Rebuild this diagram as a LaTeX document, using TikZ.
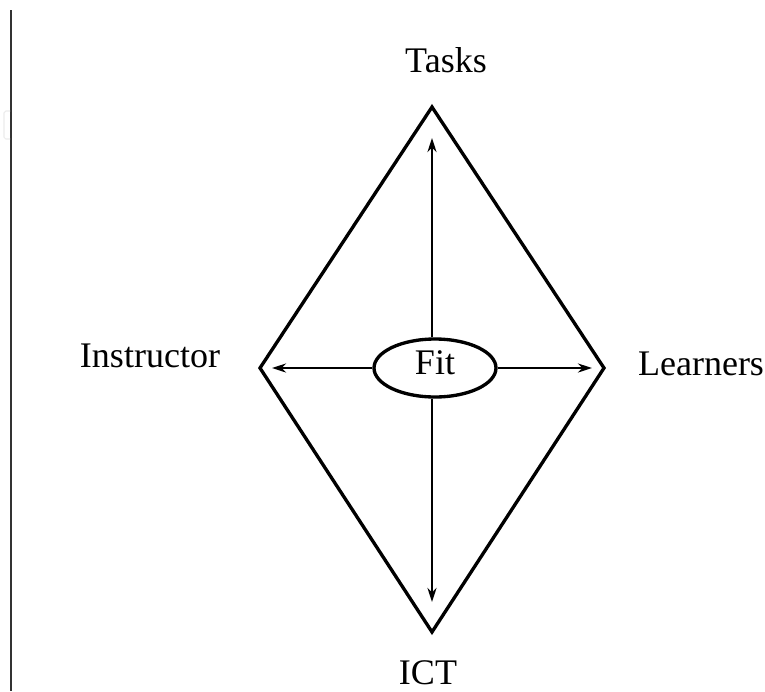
\documentclass[tikz,border=0pt]{standalone}
\usepackage{fontspec}
\setmainfont{Liberation Serif}
\usetikzlibrary{arrows.meta,shapes.geometric}
\begin{document}
\begin{tikzpicture}[x=0.02cm,y=-0.02cm,
  edge/.style={line width=1.9pt,line join=miter},
  link/.style={line width=1.5pt,-{Stealth[length=0.28cm,width=0.18cm]}},
  lbl/.style={font=\fontsize{20.5}{24}\selectfont,inner sep=0pt}]
\useasboundingbox (0,0) rectangle (765,691);
% page rule on the left
\draw[line width=1.3pt,black!80] (11,10) -- (11,691);
\draw[black!8,line width=0.6pt,rounded corners=1pt] (10,111) -- (4,111) -- (4,139) -- (10,139);
% diamond corners
\coordinate (top) at (432,107);
\coordinate (left) at (260,368);
\coordinate (right) at (604,368);
\coordinate (bottom) at (432,632);
\coordinate (tTop) at (432,138);
\coordinate (tLeft) at (272,368);
\coordinate (tRight) at (592,368);
\coordinate (tBottom) at (432,602);
\draw[edge] (top) -- (right) -- (bottom) -- (left) -- cycle;
% central fit ellipse
\node[draw,ellipse,line width=1.9pt,minimum width=2.44cm,minimum height=1.16cm,inner sep=0pt] (fit) at (435,368) {};
\node[lbl] (fitlbl) at (435,363) {Fit};
\draw[link] (fit.north -| tTop) -- (tTop);
\draw[link] (fit.south -| tBottom) -- (tBottom);
\draw[link] (fit.west) -- (tLeft);
\draw[link] (fit.east) -- (tRight);
% labels
\node[lbl] (tasks) at (446,60) {Tasks};
\node[lbl] (instr) at (150,356) {Instructor};
\node[lbl] (learn) at (701,364) {Learners};
\node[lbl] (ict) at (428,673) {ICT};
\end{tikzpicture}
\end{document}
